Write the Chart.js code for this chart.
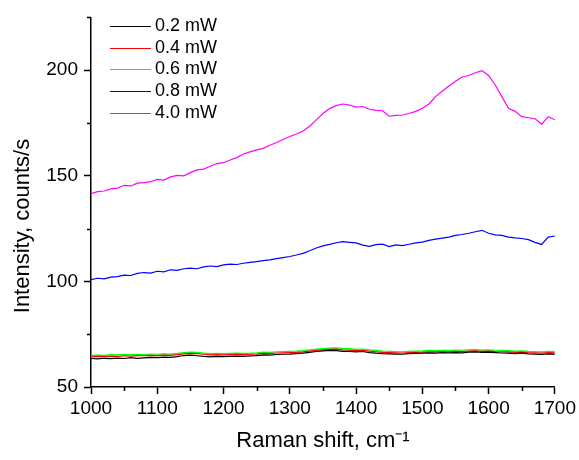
<!DOCTYPE html>
<html>
<head>
<meta charset="utf-8">
<title>Raman spectra</title>
<script src="https://cdn.jsdelivr.net/npm/chart.js@4.4.1/dist/chart.umd.min.js"></script>
<style>
  html, body { margin: 0; padding: 0; background: #fff; }
  #wrap { width: 579px; height: 460px; }
</style>
</head>
<body>
<div id="wrap"><canvas id="ramanChart" width="579" height="460"></canvas></div>
<script>
"use strict";

// Raman shift, cm-1
var shift = [
    1000, 1010, 1020, 1030, 1040, 1050, 1060, 1070, 1080, 1090,
    1100, 1110, 1120, 1130, 1140, 1150, 1160, 1170, 1180, 1190,
    1200, 1210, 1220, 1230, 1240, 1250, 1260, 1270, 1280, 1290,
    1300, 1310, 1320, 1330, 1340, 1350, 1360, 1370, 1380, 1390,
    1400, 1410, 1420, 1430, 1440, 1450, 1460, 1470, 1480, 1490,
    1500, 1510, 1520, 1530, 1540, 1550, 1560, 1570, 1580, 1590,
    1600, 1610, 1620, 1630, 1640, 1650, 1660, 1670, 1680, 1690,
    1700
];

var labels = ['0.2 mW', '0.4 mW', '0.6 mW', '0.8 mW', '4.0 mW'];
var colors = ['#000000', '#ff0000', '#00ff00', '#0000ff', '#ff00ff'];

var p02 = [
    63.5, 63.3, 63.6, 63.4, 63.7, 63.5, 63.9, 63.6, 63.8, 64.0,
    63.9, 64.1, 64.0, 64.4, 64.9, 65.1, 64.8, 64.5, 64.3, 64.5,
    64.4, 64.5, 64.6, 64.5, 64.7, 64.9, 65.2, 65.1, 65.4, 65.5,
    65.6, 65.8, 66.0, 66.4, 66.8, 67.1, 67.3, 67.2, 66.9, 66.9,
    66.6, 66.8, 66.3, 66.0, 65.8, 65.7, 65.6, 65.5, 65.8, 65.9,
    66.0, 66.2, 66.0, 66.3, 66.2, 66.3, 66.2, 66.5, 66.6, 66.4,
    66.5, 66.3, 66.1, 66.0, 65.8, 66.0, 65.7, 65.6, 65.4, 65.7,
    65.6
];
var p04 = [
    64.3, 64.5, 64.4, 64.6, 64.5, 64.8, 64.6, 64.9, 64.8, 65.0,
    64.9, 65.1, 65.0, 65.3, 65.7, 65.9, 65.8, 65.5, 65.2, 65.3,
    65.2, 65.3, 65.4, 65.3, 65.5, 65.6, 65.9, 65.8, 66.1, 66.2,
    66.3, 66.4, 66.6, 67.0, 67.3, 67.6, 67.8, 67.9, 67.6, 67.5,
    67.2, 67.4, 67.0, 66.7, 66.4, 66.3, 66.2, 66.1, 66.3, 66.4,
    66.5, 66.7, 66.6, 66.8, 66.7, 66.9, 66.8, 67.0, 67.1, 66.9,
    67.0, 66.8, 66.7, 66.6, 66.4, 66.5, 66.3, 66.2, 66.0, 66.3,
    66.2
];
var p06 = [
    65.0, 65.1, 65.0, 65.3, 65.2, 65.4, 65.3, 65.5, 65.4, 65.6,
    65.5, 65.7, 65.6, 65.9, 66.3, 66.5, 66.4, 66.1, 65.8, 65.9,
    65.8, 65.9, 66.0, 65.9, 66.0, 66.2, 66.5, 66.4, 66.7, 66.8,
    66.9, 67.0, 67.2, 67.6, 67.9, 68.2, 68.4, 68.5, 68.3, 68.2,
    67.8, 68.0, 67.6, 67.3, 67.0, 66.9, 66.8, 66.7, 66.9, 67.0,
    67.1, 67.3, 67.2, 67.4, 67.3, 67.5, 67.4, 67.6, 67.7, 67.5,
    67.6, 67.4, 67.3, 67.2, 67.0, 67.1, 66.9, 66.8, 66.6, 66.9,
    66.8
];
var p08 = [
    100.8, 101.5, 101.2, 102.0, 102.3, 103.0, 102.8, 103.8, 104.2, 103.9,
    104.8, 104.5, 105.5, 105.2, 106.0, 106.3, 106.0, 106.9, 107.3, 107.0,
    107.8, 108.2, 108.0, 108.6, 109.0, 109.4, 109.8, 110.2, 110.8, 111.3,
    111.8, 112.5, 113.3, 114.5, 115.8, 116.8, 117.5, 118.3, 118.8, 118.5,
    118.2, 117.2, 116.6, 117.4, 117.6, 116.5, 117.3, 116.9, 117.6, 118.2,
    118.6, 119.4, 120.0, 120.5, 121.0, 121.8, 122.2, 122.8, 123.5, 124.2,
    122.8, 122.0, 121.8, 121.0, 120.6, 120.3, 119.8, 118.5, 117.5, 121.0,
    121.5
];
var p40 = [
    141.5, 142.5, 142.8, 143.8, 144.2, 145.5, 145.2, 146.5, 146.8, 147.2,
    148.3, 148.0, 149.5, 150.2, 150.0, 151.5, 152.8, 153.2, 154.5, 155.8,
    156.2, 157.5, 158.6, 160.3, 161.3, 162.3, 163.0, 164.5, 165.8, 167.2,
    168.6, 169.8, 171.2, 173.5, 176.5, 179.5, 181.8, 183.2, 184.0, 183.5,
    182.5, 182.8, 181.5, 181.0, 180.8, 178.2, 178.6, 178.8, 179.5, 180.5,
    182.0, 184.0, 187.5, 190.0, 192.5, 194.8, 196.8, 197.5, 198.8, 199.8,
    197.5, 193.0, 187.5, 182.0, 180.5, 178.0, 177.5, 177.0, 174.5, 178.0,
    176.5
];

var xTicks = [1000, 1100, 1200, 1300, 1400, 1500, 1600, 1700];
var xMinor = [1050, 1150, 1250, 1350, 1450, 1550, 1650];
var yTicks = [50, 100, 150, 200];
var yMinor = [75, 125, 175, 225];

var series = [p02, p04, p06, p08, p40];
var fontFamily = '"Liberation Sans", Arial, sans-serif';

function toPoints(values) {
    return values.map(function(v, i) {
        return { x: shift[i], y: v };
    });
}

var minorTicks = {
    id: 'minorTicks',
    afterDraw: function(chart) {
        var ctx = chart.ctx;
        var xs = chart.scales.x;
        var ys = chart.scales.y;
        ctx.save();
        ctx.strokeStyle = '#000';
        ctx.lineWidth = 1.5;
        ctx.beginPath();
        xMinor.forEach(function(v) {
            var px = Math.round(xs.getPixelForValue(v)) + 0.5;
            ctx.moveTo(px, ys.bottom);
            ctx.lineTo(px, ys.bottom + 4);
        });
        yMinor.forEach(function(v) {
            var py = Math.round(ys.getPixelForValue(v)) + 0.5;
            ctx.moveTo(xs.left - 4, py);
            ctx.lineTo(xs.left, py);
        });
        ctx.stroke();
        ctx.restore();
    }
};

// y title sits lower than the plot centre in the original, so draw it by hand
var yTitle = {
    id: 'yTitle',
    afterDraw: function(chart) {
        var ctx = chart.ctx;
        ctx.save();
        ctx.translate(29, 226);
        ctx.rotate(-Math.PI / 2);
        ctx.font = '22px ' + fontFamily;
        ctx.fillStyle = '#000';
        ctx.textAlign = 'center';
        ctx.textBaseline = 'alphabetic';
        ctx.fillText('Intensity, counts/s', 0, 0);
        ctx.restore();
    }
};

var insideLegend = {
    id: 'insideLegend',
    afterDraw: function(chart) {
        var ctx = chart.ctx;
        ctx.save();
        ctx.font = '18px ' + fontFamily;
        ctx.textBaseline = 'middle';
        ctx.fillStyle = '#000';
        chart.data.datasets.forEach(function(ds, i) {
            var y = Math.round(26 + i * 21.7) + 0.5;
            ctx.strokeStyle = ds.borderColor;
            ctx.lineWidth = 1.2;
            ctx.beginPath();
            ctx.moveTo(110, y);
            ctx.lineTo(151, y);
            ctx.stroke();
            ctx.fillText(ds.label, 155, y);
        });
        ctx.restore();
    }
};

var datasets = series.map(function(values, i) {
    return {
        label: labels[i],
        data: toPoints(values),
        borderColor: colors[i],
        backgroundColor: colors[i],
        borderWidth: 1.2,
        pointRadius: 0,
        tension: 0,
        fill: false
    };
});

var tickFont = { family: fontFamily, size: 19 };

new Chart(document.getElementById('ramanChart').getContext('2d'), {
    type: 'line',
    data: { datasets: datasets },
    plugins: [minorTicks, yTitle, insideLegend],
    options: {
        responsive: false,
        animation: false,
        layout: { padding: { top: 15, right: 19, left: 0, bottom: 0 } },
        plugins: {
            legend: { display: false },
            tooltip: { enabled: false }
        },
        scales: {
            x: {
                type: 'linear',
                min: 1000,
                max: 1700,
                afterFit: function(scale) { scale.height = 73; },
                afterBuildTicks: function(scale) {
                    scale.ticks = xTicks.map(function(v) { return { value: v }; });
                },
                grid: {
                    drawOnChartArea: false,
                    drawTicks: true,
                    tickLength: 7,
                    tickWidth: 1.5,
                    tickColor: '#000'
                },
                border: { display: true, color: '#000', width: 1.5 },
                ticks: {
                    color: '#000',
                    font: tickFont,
                    padding: 3,
                    maxRotation: 0,
                    autoSkip: false,
                    callback: function(value) { return String(value); }
                },
                title: {
                    display: true,
                    text: 'Raman shift, cm\u207B\u00B9',
                    color: '#000',
                    font: { family: fontFamily, size: 22 },
                    padding: { top: 0, bottom: 6 }
                }
            },
            y: {
                type: 'linear',
                min: 50,
                max: 225,
                afterFit: function(scale) { scale.width = 91; },
                afterBuildTicks: function(scale) {
                    scale.ticks = yTicks.map(function(v) { return { value: v }; });
                },
                grid: {
                    drawOnChartArea: false,
                    drawTicks: true,
                    tickLength: 7,
                    tickWidth: 1.5,
                    tickColor: '#000'
                },
                border: { display: true, color: '#000', width: 1.5 },
                ticks: {
                    color: '#000',
                    font: tickFont,
                    padding: 6,
                    callback: function(value) { return String(value); }
                }
            }
        }
    }
});
</script>
</body>
</html>
